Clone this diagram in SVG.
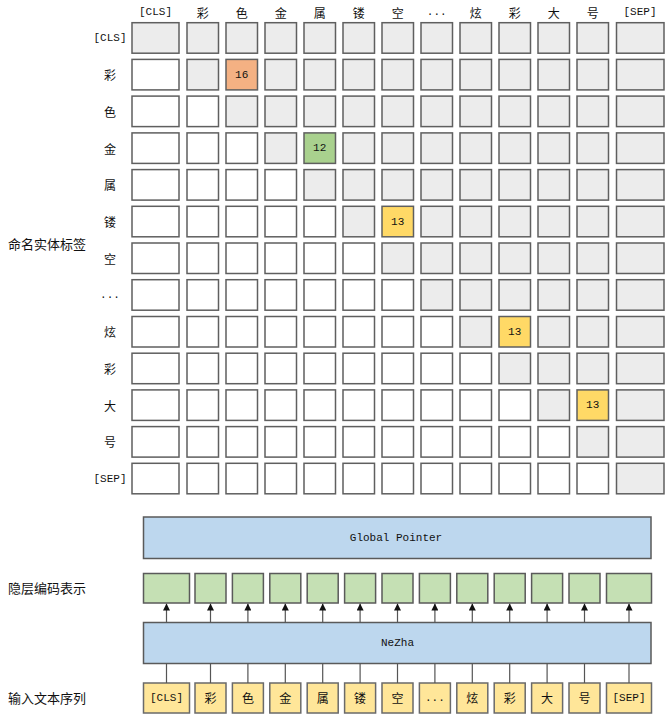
<svg xmlns="http://www.w3.org/2000/svg" width="666" height="714" viewBox="0 0 666 714">
<style>
.g{fill:#ececec;stroke:#5f5f5f;stroke-width:1.5}
.w{fill:#ffffff;stroke:#5f5f5f;stroke-width:1.5}
.o{fill:#f4b183;stroke:#5f5f5f;stroke-width:1.5}
.gr{fill:#a9d18e;stroke:#5f5f5f;stroke-width:1.5}
.y{fill:#ffd966;stroke:#5f5f5f;stroke-width:1.5}
.blue{fill:#bdd7ee;stroke:#5a5a5a;stroke-width:1.5}
.hid{fill:#c5e0b4;stroke:#5a5a5a;stroke-width:1.5}
.inp{fill:#ffe699;stroke:#6a6a6a;stroke-width:1.5}
.t{font-family:"Noto Sans CJK SC","Liberation Sans",sans-serif;font-size:12px;fill:#111;text-anchor:middle;dominant-baseline:central}
.m{font-family:"Liberation Mono","DejaVu Sans Mono",monospace;font-size:11px;fill:#111;text-anchor:middle;dominant-baseline:central}
.lab{font-family:"Noto Sans CJK SC","Liberation Sans",sans-serif;font-size:13px;fill:#111;dominant-baseline:central}
.ln{stroke:#555;stroke-width:1.2;fill:none}
</style>
<defs>
<marker id="ah" viewBox="0 0 8 8" refX="8" refY="4" markerWidth="7" markerHeight="7" markerUnits="userSpaceOnUse" orient="auto">
<path d="M0,0 L8,4 L0,8 z" fill="#111"/>
</marker>
</defs>

<g id="side-labels">
<text class="lab" x="8" y="243">命名实体标签</text>
<text class="lab" x="8" y="587">隐层编码表示</text>
<text class="lab" x="8" y="697">输入文本序列</text>
</g>

<g id="col-headers">
<text class="m" x="155.5" y="12">[CLS]</text>
<text class="t" x="202.7" y="12">彩</text>
<text class="t" x="241.7" y="12">色</text>
<text class="t" x="280.7" y="12">金</text>
<text class="t" x="319.7" y="12">属</text>
<text class="t" x="358.7" y="12">镂</text>
<text class="t" x="397.7" y="12">空</text>
<text class="m" x="436.7" y="12">...</text>
<text class="t" x="475.7" y="12">炫</text>
<text class="t" x="514.7" y="12">彩</text>
<text class="t" x="553.7" y="12">大</text>
<text class="t" x="592.7" y="12">号</text>
<text class="m" x="640" y="12">[SEP]</text>
</g>

<g id="row-headers">
<text class="m" x="110" y="38">[CLS]</text>
<text class="t" x="110" y="74.7">彩</text>
<text class="t" x="110" y="111.4">色</text>
<text class="t" x="110" y="148.2">金</text>
<text class="t" x="110" y="184.9">属</text>
<text class="t" x="110" y="221.6">镂</text>
<text class="t" x="110" y="258.3">空</text>
<text class="m" x="110" y="295">...</text>
<text class="t" x="110" y="331.8">炫</text>
<text class="t" x="110" y="368.5">彩</text>
<text class="t" x="110" y="405.2">大</text>
<text class="t" x="110" y="441.9">号</text>
<text class="m" x="110" y="478.6">[SEP]</text>
</g>

<g id="matrix">
<!-- row 0 -->
<g id="row0">
<rect class="g" x="132" y="22.7" width="47" height="30.5"/>
<rect class="g" x="187" y="22.7" width="31.5" height="30.5"/>
<rect class="g" x="226" y="22.7" width="31.5" height="30.5"/>
<rect class="g" x="265" y="22.7" width="31.5" height="30.5"/>
<rect class="g" x="304" y="22.7" width="31.5" height="30.5"/>
<rect class="g" x="343" y="22.7" width="31.5" height="30.5"/>
<rect class="g" x="382" y="22.7" width="31.5" height="30.5"/>
<rect class="g" x="421" y="22.7" width="31.5" height="30.5"/>
<rect class="g" x="460" y="22.7" width="31.5" height="30.5"/>
<rect class="g" x="499" y="22.7" width="31.5" height="30.5"/>
<rect class="g" x="538" y="22.7" width="31.5" height="30.5"/>
<rect class="g" x="577" y="22.7" width="31.5" height="30.5"/>
<rect class="g" x="616.5" y="22.7" width="47.5" height="30.5"/>
</g>
<g id="row1">
<rect class="w" x="132" y="59.4" width="47" height="30.5"/>
<rect class="g" x="187" y="59.4" width="31.5" height="30.5"/>
<rect class="o" x="226" y="59.4" width="31.5" height="30.5"/>
<rect class="g" x="265" y="59.4" width="31.5" height="30.5"/>
<rect class="g" x="304" y="59.4" width="31.5" height="30.5"/>
<rect class="g" x="343" y="59.4" width="31.5" height="30.5"/>
<rect class="g" x="382" y="59.4" width="31.5" height="30.5"/>
<rect class="g" x="421" y="59.4" width="31.5" height="30.5"/>
<rect class="g" x="460" y="59.4" width="31.5" height="30.5"/>
<rect class="g" x="499" y="59.4" width="31.5" height="30.5"/>
<rect class="g" x="538" y="59.4" width="31.5" height="30.5"/>
<rect class="g" x="577" y="59.4" width="31.5" height="30.5"/>
<rect class="g" x="616.5" y="59.4" width="47.5" height="30.5"/>
<text class="m" x="241.7" y="74.7">16</text>
</g>
<g id="row2">
<rect class="w" x="132" y="96.1" width="47" height="30.5"/>
<rect class="w" x="187" y="96.1" width="31.5" height="30.5"/>
<rect class="g" x="226" y="96.1" width="31.5" height="30.5"/>
<rect class="g" x="265" y="96.1" width="31.5" height="30.5"/>
<rect class="g" x="304" y="96.1" width="31.5" height="30.5"/>
<rect class="g" x="343" y="96.1" width="31.5" height="30.5"/>
<rect class="g" x="382" y="96.1" width="31.5" height="30.5"/>
<rect class="g" x="421" y="96.1" width="31.5" height="30.5"/>
<rect class="g" x="460" y="96.1" width="31.5" height="30.5"/>
<rect class="g" x="499" y="96.1" width="31.5" height="30.5"/>
<rect class="g" x="538" y="96.1" width="31.5" height="30.5"/>
<rect class="g" x="577" y="96.1" width="31.5" height="30.5"/>
<rect class="g" x="616.5" y="96.1" width="47.5" height="30.5"/>
</g>
<g id="row3">
<rect class="w" x="132" y="132.9" width="47" height="30.5"/>
<rect class="w" x="187" y="132.9" width="31.5" height="30.5"/>
<rect class="w" x="226" y="132.9" width="31.5" height="30.5"/>
<rect class="g" x="265" y="132.9" width="31.5" height="30.5"/>
<rect class="gr" x="304" y="132.9" width="31.5" height="30.5"/>
<rect class="g" x="343" y="132.9" width="31.5" height="30.5"/>
<rect class="g" x="382" y="132.9" width="31.5" height="30.5"/>
<rect class="g" x="421" y="132.9" width="31.5" height="30.5"/>
<rect class="g" x="460" y="132.9" width="31.5" height="30.5"/>
<rect class="g" x="499" y="132.9" width="31.5" height="30.5"/>
<rect class="g" x="538" y="132.9" width="31.5" height="30.5"/>
<rect class="g" x="577" y="132.9" width="31.5" height="30.5"/>
<rect class="g" x="616.5" y="132.9" width="47.5" height="30.5"/>
<text class="m" x="319.7" y="148.2">12</text>
</g>
<g id="row4">
<rect class="w" x="132" y="169.6" width="47" height="30.5"/>
<rect class="w" x="187" y="169.6" width="31.5" height="30.5"/>
<rect class="w" x="226" y="169.6" width="31.5" height="30.5"/>
<rect class="w" x="265" y="169.6" width="31.5" height="30.5"/>
<rect class="g" x="304" y="169.6" width="31.5" height="30.5"/>
<rect class="g" x="343" y="169.6" width="31.5" height="30.5"/>
<rect class="g" x="382" y="169.6" width="31.5" height="30.5"/>
<rect class="g" x="421" y="169.6" width="31.5" height="30.5"/>
<rect class="g" x="460" y="169.6" width="31.5" height="30.5"/>
<rect class="g" x="499" y="169.6" width="31.5" height="30.5"/>
<rect class="g" x="538" y="169.6" width="31.5" height="30.5"/>
<rect class="g" x="577" y="169.6" width="31.5" height="30.5"/>
<rect class="g" x="616.5" y="169.6" width="47.5" height="30.5"/>
</g>
<g id="row5">
<rect class="w" x="132" y="206.3" width="47" height="30.5"/>
<rect class="w" x="187" y="206.3" width="31.5" height="30.5"/>
<rect class="w" x="226" y="206.3" width="31.5" height="30.5"/>
<rect class="w" x="265" y="206.3" width="31.5" height="30.5"/>
<rect class="w" x="304" y="206.3" width="31.5" height="30.5"/>
<rect class="g" x="343" y="206.3" width="31.5" height="30.5"/>
<rect class="y" x="382" y="206.3" width="31.5" height="30.5"/>
<rect class="g" x="421" y="206.3" width="31.5" height="30.5"/>
<rect class="g" x="460" y="206.3" width="31.5" height="30.5"/>
<rect class="g" x="499" y="206.3" width="31.5" height="30.5"/>
<rect class="g" x="538" y="206.3" width="31.5" height="30.5"/>
<rect class="g" x="577" y="206.3" width="31.5" height="30.5"/>
<rect class="g" x="616.5" y="206.3" width="47.5" height="30.5"/>
<text class="m" x="397.7" y="221.6">13</text>
</g>
<g id="row6">
<rect class="w" x="132" y="243" width="47" height="30.5"/>
<rect class="w" x="187" y="243" width="31.5" height="30.5"/>
<rect class="w" x="226" y="243" width="31.5" height="30.5"/>
<rect class="w" x="265" y="243" width="31.5" height="30.5"/>
<rect class="w" x="304" y="243" width="31.5" height="30.5"/>
<rect class="w" x="343" y="243" width="31.5" height="30.5"/>
<rect class="g" x="382" y="243" width="31.5" height="30.5"/>
<rect class="g" x="421" y="243" width="31.5" height="30.5"/>
<rect class="g" x="460" y="243" width="31.5" height="30.5"/>
<rect class="g" x="499" y="243" width="31.5" height="30.5"/>
<rect class="g" x="538" y="243" width="31.5" height="30.5"/>
<rect class="g" x="577" y="243" width="31.5" height="30.5"/>
<rect class="g" x="616.5" y="243" width="47.5" height="30.5"/>
</g>
<g id="row7">
<rect class="w" x="132" y="279.7" width="47" height="30.5"/>
<rect class="w" x="187" y="279.7" width="31.5" height="30.5"/>
<rect class="w" x="226" y="279.7" width="31.5" height="30.5"/>
<rect class="w" x="265" y="279.7" width="31.5" height="30.5"/>
<rect class="w" x="304" y="279.7" width="31.5" height="30.5"/>
<rect class="w" x="343" y="279.7" width="31.5" height="30.5"/>
<rect class="w" x="382" y="279.7" width="31.5" height="30.5"/>
<rect class="g" x="421" y="279.7" width="31.5" height="30.5"/>
<rect class="g" x="460" y="279.7" width="31.5" height="30.5"/>
<rect class="g" x="499" y="279.7" width="31.5" height="30.5"/>
<rect class="g" x="538" y="279.7" width="31.5" height="30.5"/>
<rect class="g" x="577" y="279.7" width="31.5" height="30.5"/>
<rect class="g" x="616.5" y="279.7" width="47.5" height="30.5"/>
</g>
<g id="row8">
<rect class="w" x="132" y="316.5" width="47" height="30.5"/>
<rect class="w" x="187" y="316.5" width="31.5" height="30.5"/>
<rect class="w" x="226" y="316.5" width="31.5" height="30.5"/>
<rect class="w" x="265" y="316.5" width="31.5" height="30.5"/>
<rect class="w" x="304" y="316.5" width="31.5" height="30.5"/>
<rect class="w" x="343" y="316.5" width="31.5" height="30.5"/>
<rect class="w" x="382" y="316.5" width="31.5" height="30.5"/>
<rect class="w" x="421" y="316.5" width="31.5" height="30.5"/>
<rect class="g" x="460" y="316.5" width="31.5" height="30.5"/>
<rect class="y" x="499" y="316.5" width="31.5" height="30.5"/>
<rect class="g" x="538" y="316.5" width="31.5" height="30.5"/>
<rect class="g" x="577" y="316.5" width="31.5" height="30.5"/>
<rect class="g" x="616.5" y="316.5" width="47.5" height="30.5"/>
<text class="m" x="514.7" y="331.8">13</text>
</g>
<g id="row9">
<rect class="w" x="132" y="353.2" width="47" height="30.5"/>
<rect class="w" x="187" y="353.2" width="31.5" height="30.5"/>
<rect class="w" x="226" y="353.2" width="31.5" height="30.5"/>
<rect class="w" x="265" y="353.2" width="31.5" height="30.5"/>
<rect class="w" x="304" y="353.2" width="31.5" height="30.5"/>
<rect class="w" x="343" y="353.2" width="31.5" height="30.5"/>
<rect class="w" x="382" y="353.2" width="31.5" height="30.5"/>
<rect class="w" x="421" y="353.2" width="31.5" height="30.5"/>
<rect class="w" x="460" y="353.2" width="31.5" height="30.5"/>
<rect class="g" x="499" y="353.2" width="31.5" height="30.5"/>
<rect class="g" x="538" y="353.2" width="31.5" height="30.5"/>
<rect class="g" x="577" y="353.2" width="31.5" height="30.5"/>
<rect class="g" x="616.5" y="353.2" width="47.5" height="30.5"/>
</g>
<g id="row10">
<rect class="w" x="132" y="389.9" width="47" height="30.5"/>
<rect class="w" x="187" y="389.9" width="31.5" height="30.5"/>
<rect class="w" x="226" y="389.9" width="31.5" height="30.5"/>
<rect class="w" x="265" y="389.9" width="31.5" height="30.5"/>
<rect class="w" x="304" y="389.9" width="31.5" height="30.5"/>
<rect class="w" x="343" y="389.9" width="31.5" height="30.5"/>
<rect class="w" x="382" y="389.9" width="31.5" height="30.5"/>
<rect class="w" x="421" y="389.9" width="31.5" height="30.5"/>
<rect class="w" x="460" y="389.9" width="31.5" height="30.5"/>
<rect class="w" x="499" y="389.9" width="31.5" height="30.5"/>
<rect class="g" x="538" y="389.9" width="31.5" height="30.5"/>
<rect class="y" x="577" y="389.9" width="31.5" height="30.5"/>
<rect class="g" x="616.5" y="389.9" width="47.5" height="30.5"/>
<text class="m" x="592.7" y="405.2">13</text>
</g>
<g id="row11">
<rect class="w" x="132" y="426.6" width="47" height="30.5"/>
<rect class="w" x="187" y="426.6" width="31.5" height="30.5"/>
<rect class="w" x="226" y="426.6" width="31.5" height="30.5"/>
<rect class="w" x="265" y="426.6" width="31.5" height="30.5"/>
<rect class="w" x="304" y="426.6" width="31.5" height="30.5"/>
<rect class="w" x="343" y="426.6" width="31.5" height="30.5"/>
<rect class="w" x="382" y="426.6" width="31.5" height="30.5"/>
<rect class="w" x="421" y="426.6" width="31.5" height="30.5"/>
<rect class="w" x="460" y="426.6" width="31.5" height="30.5"/>
<rect class="w" x="499" y="426.6" width="31.5" height="30.5"/>
<rect class="w" x="538" y="426.6" width="31.5" height="30.5"/>
<rect class="g" x="577" y="426.6" width="31.5" height="30.5"/>
<rect class="g" x="616.5" y="426.6" width="47.5" height="30.5"/>
</g>
<g id="row12">
<rect class="w" x="132" y="463.3" width="47" height="30.5"/>
<rect class="w" x="187" y="463.3" width="31.5" height="30.5"/>
<rect class="w" x="226" y="463.3" width="31.5" height="30.5"/>
<rect class="w" x="265" y="463.3" width="31.5" height="30.5"/>
<rect class="w" x="304" y="463.3" width="31.5" height="30.5"/>
<rect class="w" x="343" y="463.3" width="31.5" height="30.5"/>
<rect class="w" x="382" y="463.3" width="31.5" height="30.5"/>
<rect class="w" x="421" y="463.3" width="31.5" height="30.5"/>
<rect class="w" x="460" y="463.3" width="31.5" height="30.5"/>
<rect class="w" x="499" y="463.3" width="31.5" height="30.5"/>
<rect class="w" x="538" y="463.3" width="31.5" height="30.5"/>
<rect class="w" x="577" y="463.3" width="31.5" height="30.5"/>
<rect class="g" x="616.5" y="463.3" width="47.5" height="30.5"/>
</g>
</g>

<g id="global-pointer">
<rect class="blue" x="143.5" y="517" width="507.5" height="41.5"/>
<text class="m" x="396" y="537.5">Global Pointer</text>
</g>

<g id="hidden">
<rect class="hid" x="143.5" y="573.5" width="46" height="29.5"/>
<rect class="hid" x="195" y="573.5" width="31" height="29.5"/>
<rect class="hid" x="232.4" y="573.5" width="31" height="29.5"/>
<rect class="hid" x="269.8" y="573.5" width="31" height="29.5"/>
<rect class="hid" x="307.2" y="573.5" width="31" height="29.5"/>
<rect class="hid" x="344.6" y="573.5" width="31" height="29.5"/>
<rect class="hid" x="382" y="573.5" width="31" height="29.5"/>
<rect class="hid" x="419.4" y="573.5" width="31" height="29.5"/>
<rect class="hid" x="456.8" y="573.5" width="31" height="29.5"/>
<rect class="hid" x="494.2" y="573.5" width="31" height="29.5"/>
<rect class="hid" x="531.6" y="573.5" width="31" height="29.5"/>
<rect class="hid" x="569" y="573.5" width="31" height="29.5"/>
<rect class="hid" x="606.5" y="573.5" width="45" height="29.5"/>
</g>

<g id="nezha">
<rect class="blue" x="143.5" y="622.5" width="507.5" height="41"/>
<text class="m" x="397.5" y="643">NeZha</text>
</g>

<g id="input">
<rect class="inp" x="143.5" y="683" width="46" height="30"/>
<rect class="inp" x="195" y="683" width="31" height="30"/>
<rect class="inp" x="232.4" y="683" width="31" height="30"/>
<rect class="inp" x="269.8" y="683" width="31" height="30"/>
<rect class="inp" x="307.2" y="683" width="31" height="30"/>
<rect class="inp" x="344.6" y="683" width="31" height="30"/>
<rect class="inp" x="382" y="683" width="31" height="30"/>
<rect class="inp" x="419.4" y="683" width="31" height="30"/>
<rect class="inp" x="456.8" y="683" width="31" height="30"/>
<rect class="inp" x="494.2" y="683" width="31" height="30"/>
<rect class="inp" x="531.6" y="683" width="31" height="30"/>
<rect class="inp" x="569" y="683" width="31" height="30"/>
<rect class="inp" x="606.5" y="683" width="45" height="30"/>
<text class="m" x="166.5" y="697.5">[CLS]</text>
<text class="t" x="210.5" y="697.5">彩</text>
<text class="t" x="247.9" y="697.5">色</text>
<text class="t" x="285.3" y="697.5">金</text>
<text class="t" x="322.7" y="697.5">属</text>
<text class="t" x="360.1" y="697.5">镂</text>
<text class="t" x="397.5" y="697.5">空</text>
<text class="m" x="434.9" y="697.5">...</text>
<text class="t" x="472.3" y="697.5">炫</text>
<text class="t" x="509.7" y="697.5">彩</text>
<text class="t" x="547.1" y="697.5">大</text>
<text class="t" x="584.5" y="697.5">号</text>
<text class="m" x="629" y="697.5">[SEP]</text>
</g>

<g id="connectors">
<line class="ln" x1="166.5" y1="622.5" x2="166.5" y2="603.5" marker-end="url(#ah)"/>
<line class="ln" x1="210.5" y1="622.5" x2="210.5" y2="603.5" marker-end="url(#ah)"/>
<line class="ln" x1="247.9" y1="622.5" x2="247.9" y2="603.5" marker-end="url(#ah)"/>
<line class="ln" x1="285.3" y1="622.5" x2="285.3" y2="603.5" marker-end="url(#ah)"/>
<line class="ln" x1="322.7" y1="622.5" x2="322.7" y2="603.5" marker-end="url(#ah)"/>
<line class="ln" x1="360.1" y1="622.5" x2="360.1" y2="603.5" marker-end="url(#ah)"/>
<line class="ln" x1="397.5" y1="622.5" x2="397.5" y2="603.5" marker-end="url(#ah)"/>
<line class="ln" x1="434.9" y1="622.5" x2="434.9" y2="603.5" marker-end="url(#ah)"/>
<line class="ln" x1="472.3" y1="622.5" x2="472.3" y2="603.5" marker-end="url(#ah)"/>
<line class="ln" x1="509.7" y1="622.5" x2="509.7" y2="603.5" marker-end="url(#ah)"/>
<line class="ln" x1="547.1" y1="622.5" x2="547.1" y2="603.5" marker-end="url(#ah)"/>
<line class="ln" x1="584.5" y1="622.5" x2="584.5" y2="603.5" marker-end="url(#ah)"/>
<line class="ln" x1="629" y1="622.5" x2="629" y2="603.5" marker-end="url(#ah)"/>
<line class="ln" x1="166.5" y1="683" x2="166.5" y2="663.5"/>
<line class="ln" x1="210.5" y1="683" x2="210.5" y2="663.5"/>
<line class="ln" x1="247.9" y1="683" x2="247.9" y2="663.5"/>
<line class="ln" x1="285.3" y1="683" x2="285.3" y2="663.5"/>
<line class="ln" x1="322.7" y1="683" x2="322.7" y2="663.5"/>
<line class="ln" x1="360.1" y1="683" x2="360.1" y2="663.5"/>
<line class="ln" x1="397.5" y1="683" x2="397.5" y2="663.5"/>
<line class="ln" x1="434.9" y1="683" x2="434.9" y2="663.5"/>
<line class="ln" x1="472.3" y1="683" x2="472.3" y2="663.5"/>
<line class="ln" x1="509.7" y1="683" x2="509.7" y2="663.5"/>
<line class="ln" x1="547.1" y1="683" x2="547.1" y2="663.5"/>
<line class="ln" x1="584.5" y1="683" x2="584.5" y2="663.5"/>
<line class="ln" x1="629" y1="683" x2="629" y2="663.5"/>
</g>
</svg>
